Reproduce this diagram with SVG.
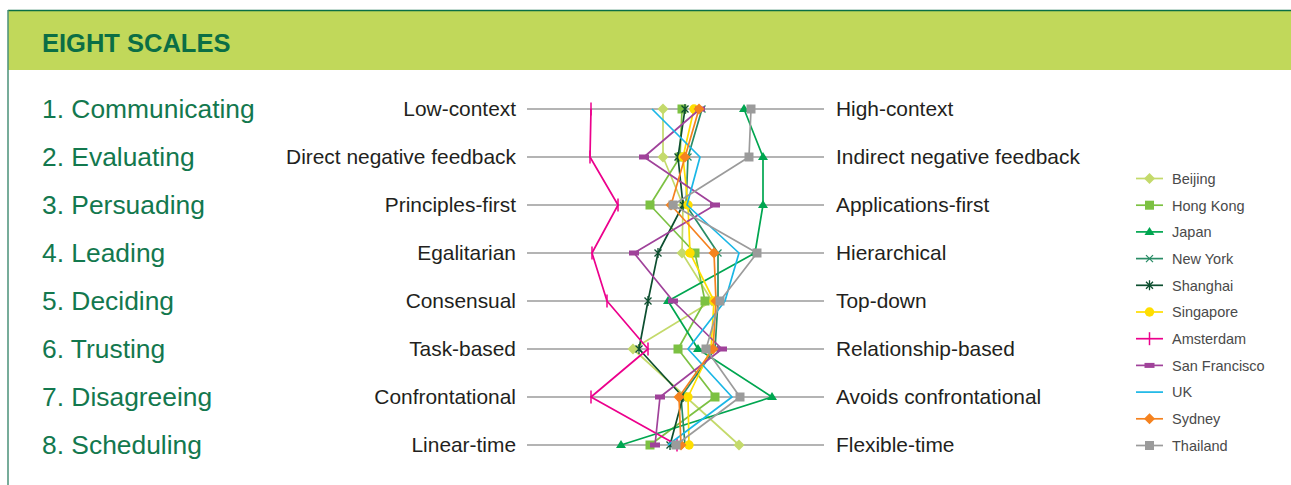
<svg xmlns="http://www.w3.org/2000/svg" width="1291" height="485" viewBox="0 0 1291 485">
<style>
.hd{font-family:"Liberation Sans",Arial,sans-serif;font-weight:bold;font-size:25.5px;fill:#0b6e45}
.ls{font-family:"Liberation Sans",Arial,sans-serif;font-size:26.4px;fill:#13784e}
.lab{font-family:"Liberation Sans",Arial,sans-serif;font-size:20.9px;fill:#231f20}
.lg{font-family:"Liberation Sans",Arial,sans-serif;font-size:14.5px;fill:#4a4a4a}
.grid{stroke:#9b9b9b;stroke-width:1.5}
.s{fill:none;stroke-width:1.7;stroke-linejoin:round}
</style>
<defs>
<marker id="mBei" markerUnits="userSpaceOnUse" markerWidth="14" markerHeight="14" refX="7" refY="7" orient="0"><path d="M7 1.5L12.5 7L7 12.5L1.5 7Z" fill="#c4da6b"/></marker>
<marker id="mSyd" markerUnits="userSpaceOnUse" markerWidth="14" markerHeight="14" refX="7" refY="7" orient="0"><path d="M7 1.5L12.5 7L7 12.5L1.5 7Z" fill="#f5821f"/></marker>
<marker id="mHK" markerUnits="userSpaceOnUse" markerWidth="12" markerHeight="12" refX="6" refY="6" orient="0"><rect x="1.5" y="1.5" width="9" height="9" fill="#7cc142"/></marker>
<marker id="mTha" markerUnits="userSpaceOnUse" markerWidth="12" markerHeight="12" refX="6" refY="6" orient="0"><rect x="1.5" y="1.5" width="9" height="9" fill="#9b9b9b"/></marker>
<marker id="mJap" markerUnits="userSpaceOnUse" markerWidth="12" markerHeight="12" refX="6" refY="7" orient="0"><path d="M6 2L11 10L1 10Z" fill="#00a650"/></marker>
<marker id="mNY" markerUnits="userSpaceOnUse" markerWidth="12" markerHeight="12" refX="6" refY="6" orient="0"><path d="M2.5 2.5L9.5 9.5M9.5 2.5L2.5 9.5" stroke="#2a8c66" stroke-width="1.3" fill="none"/></marker>
<marker id="mSha" markerUnits="userSpaceOnUse" markerWidth="12" markerHeight="12" refX="6" refY="6" orient="0"><path d="M2.5 2.5L9.5 9.5M9.5 2.5L2.5 9.5M6 1V11" stroke="#0d4f30" stroke-width="1.3" fill="none"/></marker>
<marker id="mSin" markerUnits="userSpaceOnUse" markerWidth="12" markerHeight="12" refX="6" refY="6" orient="0"><circle cx="6" cy="6" r="4.7" fill="#ffde00"/></marker>
<marker id="mAms" markerUnits="userSpaceOnUse" markerWidth="6" markerHeight="14" refX="3" refY="7" orient="0"><path d="M3 0.5V13.5" stroke="#ec008c" stroke-width="1.5"/></marker>
<marker id="mSF" markerUnits="userSpaceOnUse" markerWidth="12" markerHeight="8" refX="6" refY="4" orient="0"><rect x="1" y="1.5" width="10" height="5" fill="#a0429a"/></marker>
</defs>

<g id="frame">
<rect x="8" y="10" width="1283" height="60" fill="#c1d85a"/>
<line x1="8" y1="10.5" x2="1291" y2="10.5" stroke="#0b6e45" stroke-width="1.5"/>
<line x1="8" y1="10" x2="8" y2="485" stroke="#4a9078" stroke-width="1.5"/>
<text class="hd" x="42" y="52">EIGHT SCALES</text>
</g>

<g id="scales-list">
<text class="ls" x="42" y="118">1. Communicating</text>
<text class="ls" x="42" y="166">2. Evaluating</text>
<text class="ls" x="42" y="214">3. Persuading</text>
<text class="ls" x="42" y="262">4. Leading</text>
<text class="ls" x="42" y="310">5. Deciding</text>
<text class="ls" x="42" y="358">6. Trusting</text>
<text class="ls" x="42" y="406">7. Disagreeing</text>
<text class="ls" x="42" y="454">8. Scheduling</text>
</g>

<g id="grid">
<line class="grid" x1="527" y1="109" x2="824" y2="109"/>
<line class="grid" x1="527" y1="157" x2="824" y2="157"/>
<line class="grid" x1="527" y1="205" x2="824" y2="205"/>
<line class="grid" x1="527" y1="253" x2="824" y2="253"/>
<line class="grid" x1="527" y1="301" x2="824" y2="301"/>
<line class="grid" x1="527" y1="349" x2="824" y2="349"/>
<line class="grid" x1="527" y1="397" x2="824" y2="397"/>
<line class="grid" x1="527" y1="445" x2="824" y2="445"/>
</g>

<g id="labels-left" text-anchor="end">
<text class="lab" x="516" y="116">Low-context</text>
<text class="lab" x="516" y="164">Direct negative feedback</text>
<text class="lab" x="516" y="212">Principles-first</text>
<text class="lab" x="516" y="260">Egalitarian</text>
<text class="lab" x="516" y="308">Consensual</text>
<text class="lab" x="516" y="356">Task-based</text>
<text class="lab" x="516" y="404">Confrontational</text>
<text class="lab" x="516" y="452">Linear-time</text>
</g>
<g id="labels-right">
<text class="lab" x="836" y="116">High-context</text>
<text class="lab" x="836" y="164">Indirect negative feedback</text>
<text class="lab" x="836" y="212">Applications-first</text>
<text class="lab" x="836" y="260">Hierarchical</text>
<text class="lab" x="836" y="308">Top-down</text>
<text class="lab" x="836" y="356">Relationship-based</text>
<text class="lab" x="836" y="404">Avoids confrontational</text>
<text class="lab" x="836" y="452">Flexible-time</text>
</g>

<g id="series">
<polyline id="beijing" class="s" stroke="#c4da6b" marker-start="url(#mBei)" marker-mid="url(#mBei)" marker-end="url(#mBei)" points="663,109 663,157 683,205 682,253 712,301 633,349 686,397 739,445"/>
<polyline id="hongkong" class="s" stroke="#7cc142" marker-start="url(#mHK)" marker-mid="url(#mHK)" marker-end="url(#mHK)" points="682,109 680,157 650,205 695,253 705,301 678,349 715,397 650,445"/>
<polyline id="japan" class="s" stroke="#00a650" marker-start="url(#mJap)" marker-mid="url(#mJap)" marker-end="url(#mJap)" points="744,109 763,157 763,205 755,253 668,301 698,349 772,397 621,445"/>
<polyline id="newyork" class="s" stroke="#2a8c66" marker-start="url(#mNY)" marker-mid="url(#mNY)" marker-end="url(#mNY)" points="702,109 688,157 686,205 718,253 718,301 715,349 681,397 685,445"/>
<polyline id="shanghai" class="s" stroke="#0d4f30" marker-start="url(#mSha)" marker-mid="url(#mSha)" marker-end="url(#mSha)" points="685,109 678,157 683,205 658,253 648,301 639,349 683,397 670,445"/>
<polyline id="singapore" class="s" stroke="#ffde00" marker-start="url(#mSin)" marker-mid="url(#mSin)" marker-end="url(#mSin)" points="694,109 683,157 688,205 690,253 714,301 711,349 688,397 689,445"/>
<polyline id="amsterdam" class="s" stroke="#ec008c" marker-start="url(#mAms)" marker-mid="url(#mAms)" marker-end="url(#mAms)" points="591,109 590,157 618,205 592,253 607,301 648,349 591,397 677,445"/>
<polyline id="sanfrancisco" class="s" stroke="#a0429a" marker-start="url(#mSF)" marker-mid="url(#mSF)" marker-end="url(#mSF)" points="700,109 644,157 715,205 634,253 673,301 722,349 660,397 655,445"/>
<polyline id="uk" class="s" stroke="#1ab7e6" points="652,109 700,157 687,205 739,253 725,301 688,349 732,397 668,445"/>
<polyline id="sydney" class="s" stroke="#f5821f" marker-start="url(#mSyd)" marker-mid="url(#mSyd)" marker-end="url(#mSyd)" points="699,109 685,157 671,205 714,253 716,301 713,349 679,397 681,445"/>
<polyline id="thailand" class="s" stroke="#9b9b9b" marker-start="url(#mTha)" marker-mid="url(#mTha)" marker-end="url(#mTha)" points="751,109 749,157 673,205 757,253 720,301 706,349 740,397 676,445"/>
</g>

<g id="legend">
<polyline class="s" stroke="#c4da6b" marker-mid="url(#mBei)" points="1136,178.5 1149.5,178.5 1163,178.5"/>
<text class="lg" x="1172" y="184">Beijing</text>
<polyline class="s" stroke="#7cc142" marker-mid="url(#mHK)" points="1136,205.2 1149.5,205.2 1163,205.2"/>
<text class="lg" x="1172" y="210.5">Hong Kong</text>
<polyline class="s" stroke="#00a650" marker-mid="url(#mJap)" points="1136,231.9 1149.5,231.9 1163,231.9"/>
<text class="lg" x="1172" y="237.2">Japan</text>
<polyline class="s" stroke="#2a8c66" marker-mid="url(#mNY)" points="1136,258.6 1149.5,258.6 1163,258.6"/>
<text class="lg" x="1172" y="263.9">New York</text>
<polyline class="s" stroke="#0d4f30" marker-mid="url(#mSha)" points="1136,285.3 1149.5,285.3 1163,285.3"/>
<text class="lg" x="1172" y="290.6">Shanghai</text>
<polyline class="s" stroke="#ffde00" marker-mid="url(#mSin)" points="1136,312 1149.5,312 1163,312"/>
<text class="lg" x="1172" y="317.3">Singapore</text>
<polyline class="s" stroke="#ec008c" marker-mid="url(#mAms)" points="1136,338.7 1149.5,338.7 1163,338.7"/>
<text class="lg" x="1172" y="344">Amsterdam</text>
<polyline class="s" stroke="#a0429a" marker-mid="url(#mSF)" points="1136,365.4 1149.5,365.4 1163,365.4"/>
<text class="lg" x="1172" y="370.7">San Francisco</text>
<polyline class="s" stroke="#1ab7e6" points="1136,392.1 1149.5,392.1 1163,392.1"/>
<text class="lg" x="1172" y="397.4">UK</text>
<polyline class="s" stroke="#f5821f" marker-mid="url(#mSyd)" points="1136,418.8 1149.5,418.8 1163,418.8"/>
<text class="lg" x="1172" y="424.1">Sydney</text>
<polyline class="s" stroke="#9b9b9b" marker-mid="url(#mTha)" points="1136,445.5 1149.5,445.5 1163,445.5"/>
<text class="lg" x="1172" y="450.8">Thailand</text>
</g>
</svg>
